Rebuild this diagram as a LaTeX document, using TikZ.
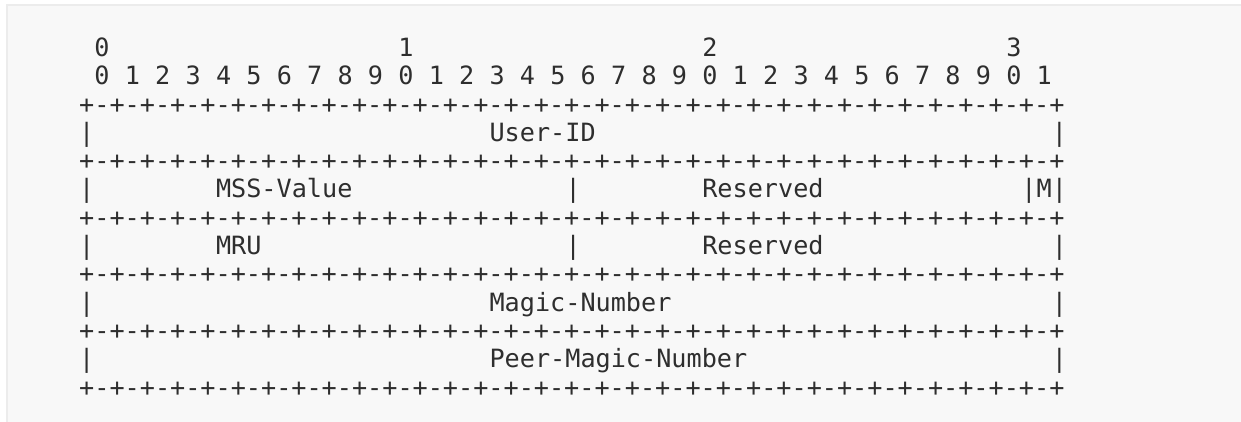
\documentclass[tikz,border=0pt]{standalone}
\usepackage{fontspec}
\usepackage{tikz}
\newfontfamily\asciifont{DejaVu Sans Mono}
\definecolor{panelgray}{HTML}{F8F8F8}
\definecolor{edgegray}{HTML}{ECECEC}
\definecolor{inkgray}{HTML}{2E2E2E}
\tikzset{
    asc/.style={font=\asciifont\fontsize{14.33pt}{17pt}\selectfont, text=inkgray, inner sep=0pt, anchor=base west},
    field/.style={asc}
}

\begin{document}
\begin{tikzpicture}
    % page and panel (pixel units)
    \begin{scope}[x=0.02cm, y=-0.02cm]
        \fill[white] (0,0) rectangle (1241,422);
        \fill[panelgray] (6,4) rectangle (1241,422);
        \fill[edgegray] (6,4) rectangle (8,422);
        \fill[edgegray] (6,4) rectangle (1241,6);
        \useasboundingbox (0,0) rectangle (1241,422);
    \end{scope}

    % one unit = one character cell / one text line
    \begin{scope}[shift={(1.578cm,-1.13cm)}, x=0.304cm, y=-0.566cm]
        \node[asc] (ten0) at (1,0) {0};
        \node[asc] (ten1) at (21,0) {1};
        \node[asc] (ten2) at (41,0) {2};
        \node[asc] (ten3) at (61,0) {3};
        \foreach \i in {0,...,31}
            \node[asc] (bit\i) at ({2*\i+1},1) {\pgfmathparse{int(mod(\i,10))}\pgfmathresult};

        \foreach \r in {2,4,...,12}
            \node[asc] (sep\r) at (0,\r) {+-+-+-+-+-+-+-+-+-+-+-+-+-+-+-+-+-+-+-+-+-+-+-+-+-+-+-+-+-+-+-+-+};
        \foreach \r in {3,5,...,11} {
            \node[asc] (left\r) at (0,\r) {|};
            \node[asc] (right\r) at (64,\r) {|};
        }

        \node[field] (userid) at (27,3) {User-ID};
        \node[field] (mss) at (9,5) {MSS-Value};
        \node[asc] (mid5) at (32,5) {|};
        \node[field] (resv5) at (41,5) {Reserved};
        \node[field] (mflag) at (62,5) {|M};
        \node[field] (mru) at (9,7) {MRU};
        \node[asc] (mid7) at (32,7) {|};
        \node[field] (resv7) at (41,7) {Reserved};
        \node[field] (magic) at (27,9) {Magic-Number};
        \node[field] (peermagic) at (27,11) {Peer-Magic-Number};
    \end{scope}
\end{tikzpicture}
\end{document}
